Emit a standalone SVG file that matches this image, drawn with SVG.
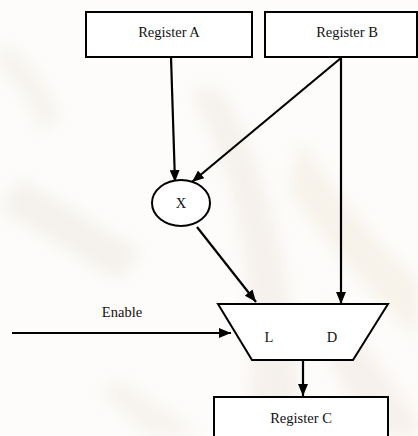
<svg xmlns="http://www.w3.org/2000/svg" width="418" height="436" viewBox="0 0 418 436">
  <defs>
    <marker id="arrow" viewBox="0 0 12 10" refX="12" refY="5" markerWidth="12" markerHeight="10" markerUnits="userSpaceOnUse" orient="auto">
      <path d="M0,0 L12,5 L0,10 Z" fill="#000"/>
    </marker>
    <filter id="soft" x="-20%" y="-20%" width="140%" height="140%">
      <feGaussianBlur stdDeviation="8"/>
    </filter>
    <style>
      .box { fill: #fff; stroke: #000; stroke-width: 2; }
      .wire { fill: none; stroke: #000; stroke-width: 2.2; marker-end: url(#arrow); }
      .lbl { font-family: 'Liberation Serif', 'Times New Roman', serif; font-size: 14.5px; fill: #111; text-anchor: middle; }
      .wash { filter: url(#soft); }
    </style>
  </defs>

  <!-- faded background wash -->
  <rect width="418" height="436" fill="#fdfcfa"/>
  <g class="wash" opacity="0.35">
    <path d="M190,90 C230,160 260,260 250,436 L300,436 C300,300 270,170 220,90 Z" fill="#e6dbd2"/>
    <path d="M300,140 C340,200 390,260 418,280 L418,340 C380,300 330,250 290,190 Z" fill="#ebe0cc"/>
    <path d="M20,180 C60,200 100,230 140,250 L120,280 C80,260 40,230 0,210 Z" fill="#e4ddd4"/>
    <path d="M330,300 C360,340 390,380 418,420 L418,436 L370,436 C350,400 330,360 310,320 Z" fill="#eadbd2"/>
    <path d="M0,40 C30,60 50,90 60,120 L40,130 C30,100 15,80 0,70 Z" fill="#e8e1d8"/>
    <path d="M120,380 C150,400 180,420 200,436 L150,436 C130,420 110,400 100,390 Z" fill="#ebe3d9"/>
  </g>

  <!-- connectors -->
  <g id="connectors">
    <line class="wire" x1="171" y1="57" x2="175" y2="182"/>
    <line class="wire" x1="341" y1="58" x2="192" y2="182"/>
    <line class="wire" x1="341" y1="58" x2="341" y2="304"/>
    <line class="wire" x1="197" y1="227" x2="256" y2="302"/>
    <line class="wire" x1="12" y1="333" x2="231" y2="333"/>
    <line class="wire" x1="303" y1="360" x2="303" y2="396"/>
  </g>

  <g id="register-a">
    <rect class="box" x="86" y="12" width="166" height="45"/>
    <text class="lbl" x="169" y="37" font-family="Liberation Serif, serif">Register A</text>
  </g>

  <g id="register-b">
    <rect class="box" x="265" y="12" width="152" height="45"/>
    <text class="lbl" x="347" y="37" font-family="Liberation Serif, serif">Register B</text>
  </g>

  <g id="multiplier">
    <ellipse class="box" cx="181" cy="203" rx="29" ry="23"/>
    <text class="lbl" x="181" y="208" font-family="Liberation Serif, serif">X</text>
  </g>

  <g id="enable-label">
    <text class="lbl" x="122" y="317" font-family="Liberation Serif, serif">Enable</text>
  </g>

  <g id="mux">
    <polygon class="box" points="218,304 388,304 353,360 252,360"/>
    <text class="lbl" x="269" y="342" font-family="Liberation Serif, serif">L</text>
    <text class="lbl" x="332" y="342" font-family="Liberation Serif, serif">D</text>
  </g>

  <g id="register-c">
    <rect class="box" x="214" y="397" width="174" height="45"/>
    <text class="lbl" x="301" y="423" font-family="Liberation Serif, serif">Register C</text>
  </g>
</svg>
